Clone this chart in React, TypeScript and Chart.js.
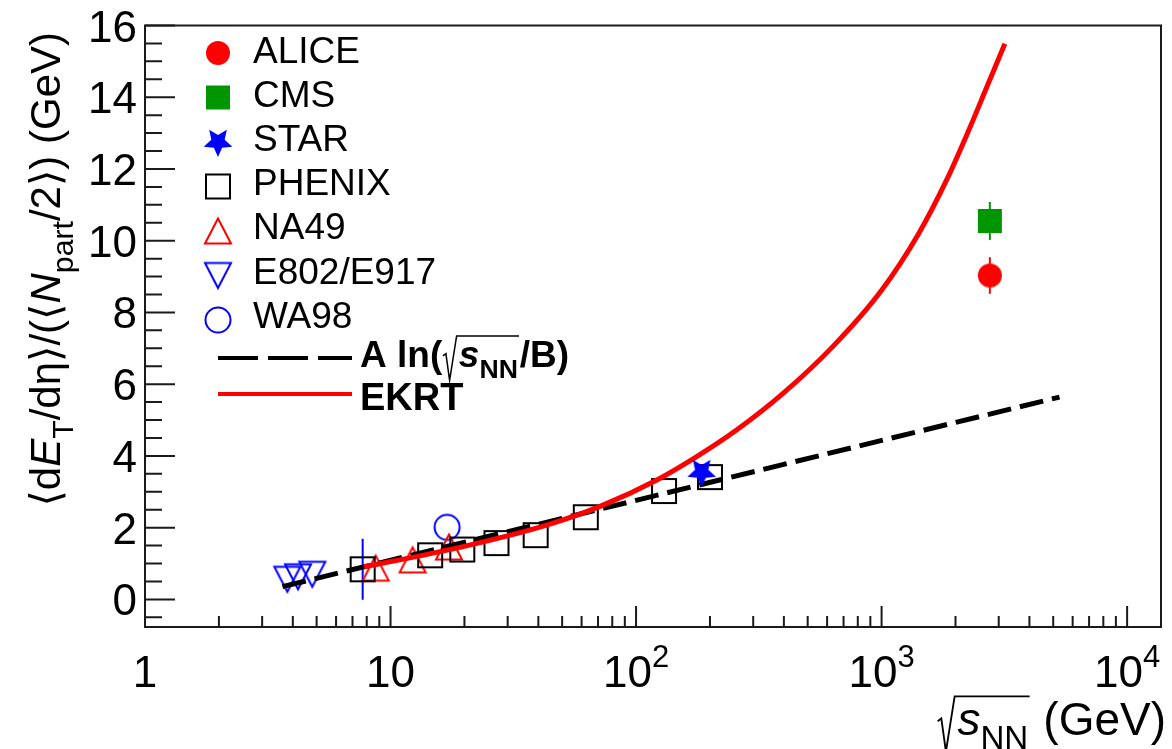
import React, { useEffect, useRef } from "react";
import { Chart, registerables } from "chart.js";
Chart.register(...registerables);

const FONT = '"Liberation Sans", Arimo, Helvetica, Arial, "DejaVu Sans", sans-serif';

// ---------------- data ----------------
const aliceX = [2760];
const aliceY = [9.03];
const aliceErr = [0.51];
const cmsX = [2760];
const cmsY = [10.55];
const cmsErr = [0.53];
const starX = [185];
const starY = [3.55];
const phenixX = [7.7, 14.5, 19.6, 27, 39, 62.4, 130, 200];
const phenixY = [0.84, 1.23, 1.39, 1.57, 1.79, 2.29, 3.02, 3.41];
const phenixErr = [0.85, 0, 0, 0, 0, 0, 0, 0];
const na49X = [8.7, 12.3, 17.3];
const na49Y = [0.87, 1.1, 1.46];
const e802X = [3.8, 4.2, 4.8];
const e802Y = [0.56, 0.63, 0.7];
const wa98X = [17.0];
const wa98Y = [2.01];
const ekrtX = [7.8, 17.2, 43.6, 71.7, 121.6, 176.6, 256.6, 398, 631, 1000, 1413, 1845, 2291, 2680, 3178];
const ekrtY = [0.91, 1.38, 2.08, 2.6, 3.33, 3.98, 4.72, 5.75, 7.04, 8.62, 10.19, 11.71, 13.16, 14.28, 15.49];
const fitX = [3.63, 5305];
const fitY = [0.355, 5.64];

const xMajorTicks = [1, 10, 100, 1000, 10000];
const xTickBase = ["1", "10", "10", "10", "10"];
const xTickExp = ["", "", "2", "3", "4"];
const yMajorTicks = [0, 2, 4, 6, 8, 10, 12, 14, 16];
const legendLabels = ["ALICE", "CMS", "STAR", "PHENIX", "NA49", "E802/E917", "WA98"];
const X_MIN = 1;
const X_MAX = 13740;
const Y_MIN = -0.77;
const Y_MAX = 16;

const RED = "#ff0000";
const BLUE = "#0000ff";
const GREEN = "#009600";

// ---------------- rich text ----------------
type Seg = { t?: string; i?: boolean; b?: boolean; sub?: boolean; sup?: boolean; rad?: Seg[] };

function segFont(s: Seg, size: number, bold: boolean) {
  const sz = s.sub || s.sup ? size * 0.72 : size;
  return `${s.i ? "italic " : ""}${s.b || bold ? "bold " : ""}${sz}px ${FONT}`;
}
function measureSegs(ctx: CanvasRenderingContext2D, segs: Seg[], size: number, bold: boolean): number {
  let w = 0;
  for (const s of segs) {
    if (s.rad) w += size * 0.45 + measureSegs(ctx, s.rad, size, bold) + size * 0.05;
    else {
      ctx.font = segFont(s, size, bold);
      w += ctx.measureText(s.t || "").width;
    }
  }
  return w;
}
function drawSegs(ctx: CanvasRenderingContext2D, segs: Seg[], x: number, y: number, size: number, bold: boolean, color: string): number {
  for (const s of segs) {
    if (s.rad) {
      const iw = measureSegs(ctx, s.rad, size, bold);
      const rw = size * 0.45;
      ctx.save();
      ctx.strokeStyle = color;
      ctx.lineWidth = Math.max(1.5, size * 0.04);
      ctx.beginPath();
      ctx.moveTo(x + size * 0.02, y - size * 0.3);
      ctx.lineTo(x + size * 0.1, y - size * 0.36);
      ctx.lineTo(x + size * 0.2, y + size * 0.36);
      ctx.lineTo(x + rw - size * 0.06, y - size * 0.84);
      ctx.lineTo(x + rw + iw + size * 0.03, y - size * 0.84);
      ctx.stroke();
      ctx.restore();
      x = drawSegs(ctx, s.rad, x + rw, y, size, bold, color) + size * 0.05;
    } else {
      ctx.font = segFont(s, size, bold);
      const dy = s.sub ? size * 0.3 : s.sup ? -size * 0.42 : 0;
      ctx.fillText(s.t || "", x, y + dy);
      x += ctx.measureText(s.t || "").width;
    }
  }
  return x;
}
function drawRich(
  ctx: CanvasRenderingContext2D,
  segs: Seg[],
  x: number,
  y: number,
  size: number,
  opts: { bold?: boolean; align?: "left" | "right" | "center"; rotate?: boolean; color?: string } = {}
) {
  const bold = !!opts.bold;
  const color = opts.color || "#000";
  ctx.save();
  ctx.fillStyle = color;
  ctx.textAlign = "left";
  ctx.textBaseline = "alphabetic";
  const w = measureSegs(ctx, segs, size, bold);
  ctx.translate(x, y);
  if (opts.rotate) ctx.rotate(-Math.PI / 2);
  const sx = opts.align === "right" ? -w : opts.align === "center" ? -w / 2 : 0;
  drawSegs(ctx, segs, sx, 0, size, bold, color);
  ctx.restore();
}

// ---------------- markers ----------------
function mk(size: number, draw: (c: CanvasRenderingContext2D) => void) {
  const cv = document.createElement("canvas");
  cv.width = size;
  cv.height = size;
  const c = cv.getContext("2d")!;
  c.translate(size / 2, size / 2);
  draw(c);
  return cv;
}
function makeMarkers() {
  const alice = mk(30, (c) => {
    c.fillStyle = RED;
    c.beginPath();
    c.arc(0, 0, 12, 0, Math.PI * 2);
    c.fill();
  });
  const cms = mk(30, (c) => {
    c.fillStyle = GREEN;
    c.fillRect(-12, -12, 24, 24);
  });
  const star = mk(34, (c) => {
    c.fillStyle = BLUE;
    c.beginPath();
    for (let k = 0; k < 10; k++) {
      const ang = Math.PI / 2 + (k * Math.PI) / 5;
      const rr = k % 2 === 0 ? 15 : 7;
      c.lineTo(rr * Math.cos(ang), rr * Math.sin(ang));
    }
    c.closePath();
    c.fill();
  });
  const phenix = mk(30, (c) => {
    c.strokeStyle = "#000";
    c.lineWidth = 2;
    c.strokeRect(-12, -12, 24, 24);
  });
  const na49 = mk(32, (c) => {
    c.strokeStyle = RED;
    c.lineWidth = 2;
    c.beginPath();
    c.moveTo(0, -12.5);
    c.lineTo(13, 12.5);
    c.lineTo(-13, 12.5);
    c.closePath();
    c.stroke();
  });
  const e802 = mk(32, (c) => {
    c.strokeStyle = BLUE;
    c.lineWidth = 2;
    c.beginPath();
    c.moveTo(0, 12.5);
    c.lineTo(13, -12.5);
    c.lineTo(-13, -12.5);
    c.closePath();
    c.stroke();
  });
  const wa98 = mk(32, (c) => {
    c.strokeStyle = BLUE;
    c.lineWidth = 2;
    c.beginPath();
    c.arc(0, 0, 12.5, 0, Math.PI * 2);
    c.stroke();
  });
  return { alice, cms, star, phenix, na49, e802, wa98 };
}

function pts(xs: number[], ys: number[]) {
  return xs.map((x, i) => ({ x, y: ys[i] }));
}

// ---------------- plugins ----------------
const errorBarPlugin = {
  id: "errorBars",
  beforeDatasetsDraw(chart: any) {
    const { ctx } = chart;
    const xs = chart.scales.x;
    const ys = chart.scales.y;
    chart.data.datasets.forEach((ds: any) => {
      if (!ds.errors) return;
      ctx.save();
      ctx.strokeStyle = ds.errorColor;
      ctx.lineWidth = 2;
      ds.data.forEach((p: any, j: number) => {
        const e = ds.errors[j];
        if (!e) return;
        const px = xs.getPixelForValue(p.x);
        ctx.beginPath();
        ctx.moveTo(px, ys.getPixelForValue(p.y - e));
        ctx.lineTo(px, ys.getPixelForValue(p.y + e));
        ctx.stroke();
      });
      ctx.restore();
    });
  },
};

function makeFramePlugin(markers: ReturnType<typeof makeMarkers>) {
  return {
    id: "rootFrame",
    afterDraw(chart: any) {
      const { ctx, chartArea: a } = chart;
      const xs = chart.scales.x;
      const ys = chart.scales.y;
      ctx.save();
      // frame
      ctx.strokeStyle = "#1a1a1a";
      ctx.lineWidth = 2;
      ctx.strokeRect(a.left, a.top, a.right - a.left, a.bottom - a.top);
      // x ticks
      ctx.beginPath();
      for (let d = 0; d < xMajorTicks.length; d++) {
        const base = xMajorTicks[d];
        for (let m = 1; m <= 9; m++) {
          const v = base * m;
          if (v < X_MIN || v > X_MAX) continue;
          const px = xs.getPixelForValue(v);
          const len = m === 1 ? 21 : 11;
          ctx.moveTo(px, a.bottom);
          ctx.lineTo(px, a.bottom - len);
        }
      }
      // y ticks
      for (let k = Math.ceil(Y_MIN / 0.5); k * 0.5 <= Y_MAX + 1e-9; k++) {
        const v = k * 0.5;
        const py = ys.getPixelForValue(v);
        const len = k % 4 === 0 ? 30 : 17;
        ctx.moveTo(a.left, py);
        ctx.lineTo(a.left + len, py);
      }
      ctx.stroke();

      // tick labels
      ctx.fillStyle = "#000";
      ctx.textBaseline = "alphabetic";
      ctx.font = `44px ${FONT}`;
      ctx.textAlign = "right";
      for (const v of yMajorTicks) {
        ctx.fillText(String(v), 137, ys.getPixelForValue(v) + 16);
      }
      ctx.textAlign = "left";
      for (let d = 0; d < xMajorTicks.length; d++) {
        const px = xs.getPixelForValue(xMajorTicks[d]);
        ctx.font = `44px ${FONT}`;
        const wb = ctx.measureText(xTickBase[d]).width;
        ctx.font = `31px ${FONT}`;
        const we = xTickExp[d] ? ctx.measureText(xTickExp[d]).width : 0;
        const x0 = px - (wb + we) / 2;
        ctx.font = `44px ${FONT}`;
        ctx.fillText(xTickBase[d], x0, 687);
        if (xTickExp[d]) {
          ctx.font = `31px ${FONT}`;
          ctx.fillText(xTickExp[d], x0 + wb, 667);
        }
      }

      // axis titles
      drawRich(
        ctx,
        [{ rad: [{ t: "s", i: true }, { t: "NN", sub: true }] }, { t: " (GeV)" }],
        1166,
        735,
        46,
        { align: "right" }
      );
      drawRich(
        ctx,
        [
          { t: "\u27E8d" },
          { t: "E", i: true },
          { t: "T", sub: true },
          { t: "/d\u03B7\u27E9/(\u27E8" },
          { t: "N", i: true },
          { t: "part", sub: true },
          { t: "/2\u27E9) (GeV)" },
        ],
        60,
        32,
        42,
        { align: "right", rotate: true }
      );

      // legend
      const icons = [markers.alice, markers.cms, markers.star, markers.phenix, markers.na49, markers.e802, markers.wa98];
      ctx.font = `37px ${FONT}`;
      ctx.textAlign = "left";
      ctx.fillStyle = "#000";
      for (let k = 0; k < legendLabels.length; k++) {
        const my = 53 + 44.5 * k;
        const ic = icons[k];
        ctx.drawImage(ic, 218 - ic.width / 2, my - ic.height / 2);
        ctx.fillText(legendLabels[k], 253, 63 + 44.1 * k);
      }
      ctx.lineWidth = 4;
      ctx.strokeStyle = "#000";
      ctx.setLineDash([40, 10]);
      ctx.beginPath();
      ctx.moveTo(218, 358);
      ctx.lineTo(352, 358);
      ctx.stroke();
      ctx.setLineDash([]);
      ctx.strokeStyle = RED;
      ctx.beginPath();
      ctx.moveTo(218, 394);
      ctx.lineTo(352, 394);
      ctx.stroke();
      drawRich(
        ctx,
        [{ t: "A ln(" }, { rad: [{ t: "s", i: true }, { t: "NN", sub: true }] }, { t: "/B)" }],
        360,
        367,
        37,
        { bold: true }
      );
      drawRich(ctx, [{ t: "EKRT" }], 360, 410, 38, { bold: true });
      ctx.restore();
    },
  };
}

export default function App() {
  const ref = useRef<HTMLCanvasElement>(null);
  useEffect(() => {
    const markers = makeMarkers();
    const chart = new Chart(ref.current!, {
      type: "scatter",
      data: {
        datasets: [
          { label: "STAR", data: pts(starX, starY), pointStyle: markers.star as any, pointRadius: 10, order: 0 } as any,
          { label: "ALICE", data: pts(aliceX, aliceY), pointStyle: markers.alice as any, pointRadius: 10, order: 0, errors: aliceErr, errorColor: RED } as any,
          { label: "CMS", data: pts(cmsX, cmsY), pointStyle: markers.cms as any, pointRadius: 10, order: 0, errors: cmsErr, errorColor: GREEN } as any,
          {
            label: "EKRT",
            data: pts(ekrtX, ekrtY),
            showLine: true,
            borderColor: RED,
            borderWidth: 5,
            pointRadius: 0,
            cubicInterpolationMode: "monotone",
            order: 1,
          } as any,
          {
            label: "fit",
            data: pts(fitX, fitY),
            showLine: true,
            borderColor: "#000",
            borderWidth: 5,
            borderDash: [24, 9],
            pointRadius: 0,
            order: 2,
          } as any,
          { label: "PHENIX", data: pts(phenixX, phenixY), pointStyle: markers.phenix as any, pointRadius: 10, order: 3, errors: phenixErr, errorColor: BLUE } as any,
          { label: "NA49", data: pts(na49X, na49Y), pointStyle: markers.na49 as any, pointRadius: 10, order: 3 } as any,
          { label: "E802/E917", data: pts(e802X, e802Y), pointStyle: markers.e802 as any, pointRadius: 10, order: 3 } as any,
          { label: "WA98", data: pts(wa98X, wa98Y), pointStyle: markers.wa98 as any, pointRadius: 10, order: 3 } as any,
        ],
      },
      options: {
        animation: false,
        responsive: false,
        maintainAspectRatio: false,
        events: [],
        layout: { padding: { left: 145, right: 5, top: 25.5, bottom: 122 } },
        scales: {
          x: { type: "logarithmic", min: X_MIN, max: X_MAX, display: false },
          y: { type: "linear", min: Y_MIN, max: Y_MAX, display: false },
        },
        plugins: { legend: { display: false }, tooltip: { enabled: false } },
      },
      plugins: [errorBarPlugin, makeFramePlugin(markers)],
    } as any);
    return () => chart.destroy();
  }, []);
  return (
    <div style={{ position: "fixed", left: 0, top: 0, width: 1172, height: 749, background: "#fff" }}>
      <canvas ref={ref} width={1172} height={749} style={{ display: "block", width: 1172, height: 749 }} />
    </div>
  );
}
